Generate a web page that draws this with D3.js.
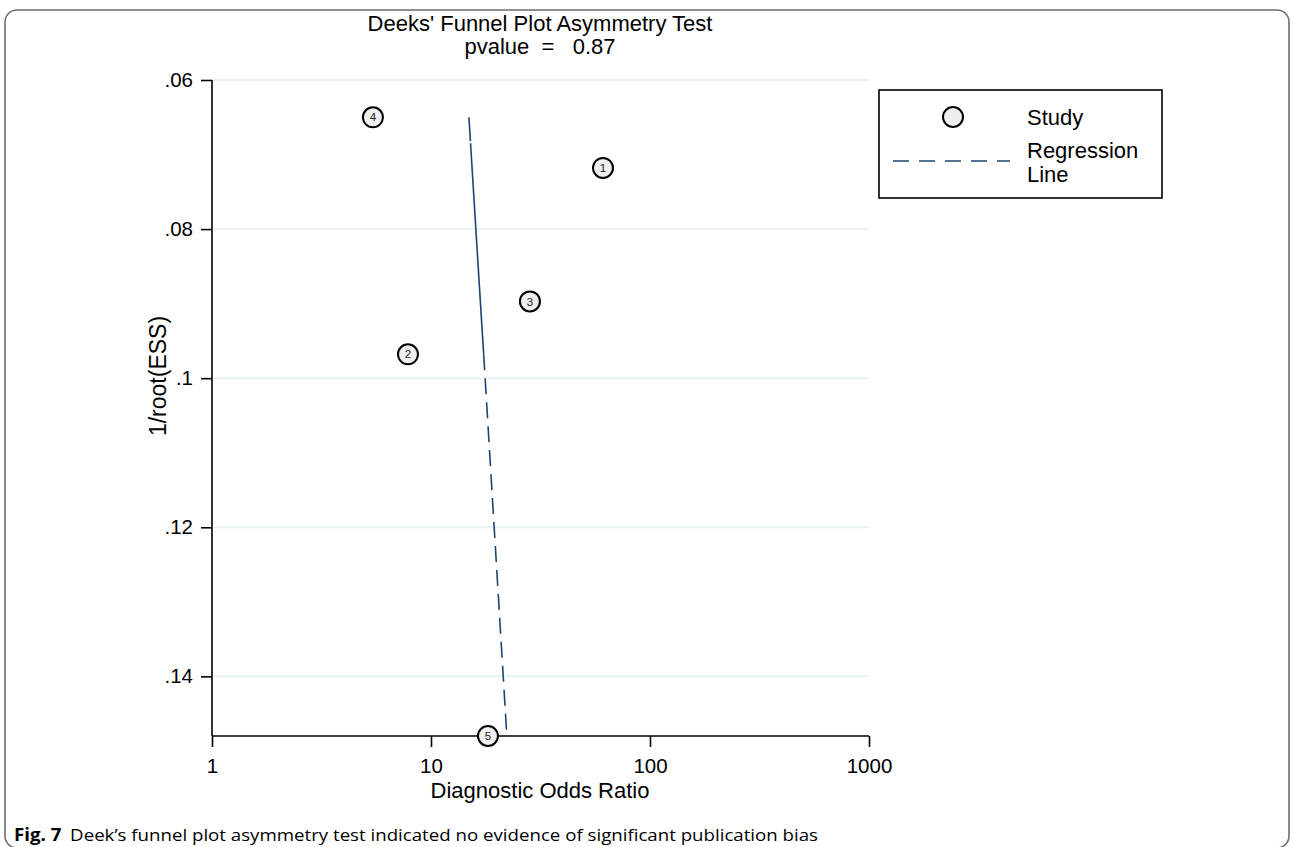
<!DOCTYPE html>
<html><head><meta charset="utf-8">
<script src="https://cdn.jsdelivr.net/npm/d3@7"></script>
<style>body{margin:0;background:#fff}svg{display:block}</style>
</head><body>
<svg id="c" width="1293" height="847"></svg>
<script>
// Data
const studyIds = [1, 2, 3, 4, 5];
const studyDOR = [61.0, 7.85, 28.3, 5.43, 18.2];
const studyInvRootESS = [0.0718, 0.0968, 0.0897, 0.0650, 0.1480];
const fitInvRootESS = [0.0650, 0.0718, 0.0897, 0.0968, 0.1480];
const fitDOR = [14.9, 15.4, 16.8, 17.4, 22.2];
const xTicks = [1, 10, 100, 1000];
const yTicks = [0.06, 0.08, 0.10, 0.12, 0.14];
const yTickLabels = [".06", ".08", ".1", ".12", ".14"];

const svg = d3.select("#c");
const FONT = "Liberation Sans, Arial, sans-serif";
const x = d3.scaleLog().domain([1, 1000]).range([212, 869]);
const y = d3.scaleLinear().domain([0.06, 0.148]).range([80, 736]);

// outer border
svg.append("rect").attr("x", 5).attr("y", 10).attr("width", 1284).attr("height", 838)
  .attr("rx", 12).attr("fill", "none").attr("stroke", "#6e6e6e").attr("stroke-width", 1.6);

// gridlines
svg.append("g").selectAll("line").data(yTicks).join("line")
  .attr("x1", 212).attr("x2", 869).attr("y1", d => y(d)).attr("y2", d => y(d))
  .attr("stroke", "#eaf2f3").attr("stroke-width", 2);

// axes
const yAxis = d3.axisLeft(y).tickValues(yTicks).tickFormat((d, i) => yTickLabels[i]).tickSize(11).tickPadding(8);
const gy = svg.append("g").attr("transform", "translate(212,0)").call(yAxis);
const xAxis = d3.axisBottom(x).tickValues(xTicks).tickFormat(d3.format("d")).tickSize(11).tickPadding(11);
const gx = svg.append("g").attr("transform", "translate(0,736)").call(xAxis);
[gx, gy].forEach(g => {
  g.select(".domain").attr("stroke", "#000").attr("stroke-width", 1.6);
  g.selectAll(".tick line").attr("stroke", "#000").attr("stroke-width", 1.6);
  g.selectAll(".tick text").attr("font-family", FONT).attr("font-size", 20.5).attr("fill", "#000");
});
gx.select(".domain").attr("d", "M212,0H869");
gy.select(".domain").attr("d", "M0,80V736");

// regression line
const pts = fitDOR.map((d, i) => [x(d), y(fitInvRootESS[i])]);
const line = d3.line();
svg.append("path").attr("d", line(pts.slice(0, 4))).attr("fill", "none")
  .attr("stroke", "#1a476f").attr("stroke-width", 1.6).attr("stroke-dasharray", "24,2,300");
svg.append("path").attr("d", line(pts.slice(3))).attr("fill", "none")
  .attr("stroke", "#1a476f").attr("stroke-width", 1.6).attr("stroke-dasharray", "16,8");

// study markers
const g = svg.append("g").selectAll("g").data(studyIds).join("g")
  .attr("transform", (d, i) => `translate(${x(studyDOR[i])},${y(studyInvRootESS[i])})`);
g.append("circle").attr("r", 10).attr("fill", "#efefef").attr("stroke", "#000").attr("stroke-width", 2);
g.append("text").text(d => d).attr("text-anchor", "middle").attr("dy", "0.36em")
  .attr("font-family", FONT).attr("font-size", 11.5).attr("fill", "#222");

// title
svg.append("text").attr("x", 540).attr("y", 31).attr("text-anchor", "middle")
  .attr("font-family", FONT).attr("font-size", 22).text("Deeks' Funnel Plot Asymmetry Test");
svg.append("text").attr("x", 540).attr("y", 54).attr("text-anchor", "middle")
  .attr("font-family", FONT).attr("font-size", 22).attr("xml:space", "preserve").text("pvalue  =   0.87");

// axis titles
svg.append("text").attr("x", 540).attr("y", 798).attr("text-anchor", "middle")
  .attr("font-family", FONT).attr("font-size", 22).text("Diagnostic Odds Ratio");
svg.append("text").attr("transform", "translate(166,376) rotate(-90)").attr("text-anchor", "middle")
  .attr("font-family", FONT).attr("font-size", 23).text("1/root(ESS)");

// legend
const lg = svg.append("g");
lg.append("rect").attr("x", 879).attr("y", 90).attr("width", 283).attr("height", 108)
  .attr("fill", "#fff").attr("stroke", "#000").attr("stroke-width", 1.6);
lg.append("circle").attr("cx", 953).attr("cy", 117).attr("r", 10).attr("fill", "#efefef").attr("stroke", "#000").attr("stroke-width", 2);
lg.append("line").attr("x1", 893).attr("x2", 1010).attr("y1", 161).attr("y2", 161)
  .attr("stroke", "#1a476f").attr("stroke-width", 1.6).attr("stroke-dasharray", "16,10");
lg.append("text").attr("x", 1027).attr("y", 125).attr("font-family", FONT).attr("font-size", 22).text("Study");
lg.append("text").attr("x", 1027).attr("y", 158).attr("font-family", FONT).attr("font-size", 22).text("Regression");
lg.append("text").attr("x", 1027).attr("y", 182).attr("font-family", FONT).attr("font-size", 22).text("Line");

// caption
const cap = svg.append("text").attr("x", 14).attr("y", 841)
  .attr("font-family", "'Open Sans', sans-serif").attr("font-size", 17)
  .attr("textLength", 804).attr("lengthAdjust", "spacingAndGlyphs");
cap.append("tspan").attr("font-weight", "bold").text("Fig. 7");
cap.append("tspan").attr("dx", 8).text("Deek\u2019s funnel plot asymmetry test indicated no evidence of significant publication bias");
</script>
</body></html>
